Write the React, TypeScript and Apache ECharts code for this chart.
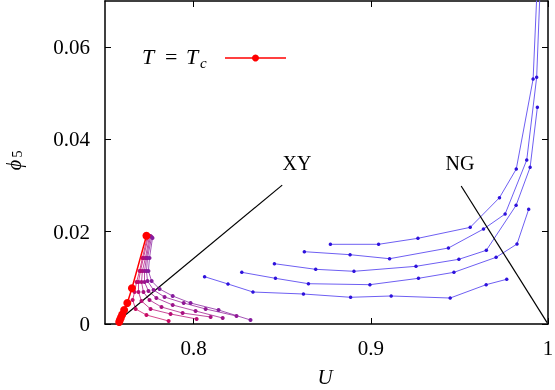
import React, { useEffect, useRef } from 'react';
import * as echarts from 'echarts';

const X_TICKS = [0.8, 0.9, 1];
const Y_TICKS = [0, 0.02, 0.04, 0.06];

// T = Tc curve (red)
const tcCurve: [number, number][] = [
  [0.7734, 0.01913], [0.7652, 0.00774], [0.7626, 0.00455], [0.7608, 0.00303],
  [0.7597, 0.00206], [0.759, 0.00141], [0.7584, 0.00087], [0.758, 0.00043],
];

// purple family near the XY fixed point
const purple1: [number, number][] = [
  [0.774, 0.01907], [0.7711, 0.0143], [0.7695, 0.01148], [0.7678, 0.0091], [0.7667, 0.00693],
  [0.7656, 0.0052], [0.7673, 0.00325], [0.7734, 0.00195], [0.7859, 0.00065],
];
const purple2: [number, number][] = [
  [0.7745, 0.01907], [0.7717, 0.0143], [0.77, 0.01148], [0.7689, 0.0091], [0.7689, 0.00693],
  [0.7706, 0.00498], [0.7757, 0.00325], [0.787, 0.00217], [0.8017, 0.00108],
];
const purple3: [number, number][] = [
  [0.7751, 0.01907], [0.7728, 0.0143], [0.7711, 0.01148], [0.7706, 0.0091], [0.7717, 0.00693],
  [0.7751, 0.0052], [0.7819, 0.00368], [0.7938, 0.00238], [0.8096, 0.00152],
];
const purple4: [number, number][] = [
  [0.7757, 0.01907], [0.7734, 0.0143], [0.7723, 0.01148], [0.7723, 0.0091], [0.7745, 0.00715],
  [0.779, 0.00563], [0.7882, 0.00412], [0.8011, 0.00282], [0.8164, 0.0013],
];
const purple5: [number, number][] = [
  [0.7763, 0.01885], [0.774, 0.0143], [0.7734, 0.01148], [0.774, 0.00932], [0.7774, 0.00737],
  [0.7836, 0.00585], [0.7944, 0.00455], [0.8068, 0.00325], [0.8242, 0.00173],
];
const purple6: [number, number][] = [
  [0.7768, 0.01864], [0.7751, 0.0143], [0.7745, 0.01148], [0.7763, 0.00932], [0.7808, 0.00758],
  [0.7882, 0.00607], [0.7983, 0.00455], [0.8141, 0.00303], [0.8321, 0.00087],
];

// blue family near the NG region
const blue1: [number, number][] = [
  [0.8772, 0.01727], [0.9044, 0.01727], [0.9266, 0.01857], [0.9561, 0.02095], [0.9726, 0.02737],
  [0.9821, 0.03359], [0.9916, 0.05309], [0.9948, 0.081],
];
const blue2: [number, number][] = [
  [0.8625, 0.01567], [0.8883, 0.01502], [0.9106, 0.01415], [0.9438, 0.01647], [0.9636, 0.02058],
  [0.9758, 0.02383], [0.988, 0.03554], [0.9936, 0.05346], [0.9964, 0.081],
];
const blue3: [number, number][] = [
  [0.8456, 0.01307], [0.8689, 0.01185], [0.8905, 0.01142], [0.9255, 0.0125], [0.9497, 0.01402],
  [0.9652, 0.01597], [0.982, 0.02572], [0.9899, 0.03395], [0.994, 0.04696],
];
const blue4: [number, number][] = [
  [0.8272, 0.0112], [0.8462, 0.0099], [0.8648, 0.00873], [0.8995, 0.00852], [0.9269, 0.0099],
  [0.9469, 0.0112], [0.9707, 0.01445], [0.9825, 0.01733], [0.9891, 0.02485],
];
const blue5: [number, number][] = [
  [0.8062, 0.01025], [0.8194, 0.00867], [0.8335, 0.00693], [0.862, 0.0065], [0.8886, 0.00579],
  [0.9115, 0.00607], [0.9448, 0.00563], [0.9651, 0.00852], [0.9767, 0.00969],
];

// annotation pointers
const xyPointer: [number, number][] = [[0.85, 0.0301], [0.7594, 0.0013]];
const ngPointer: [number, number][] = [[0.951, 0.0299], [0.9995, 0.0003]];

const SERIF = "'Liberation Serif', 'DejaVu Serif', serif";

export default function App() {
  const ref = useRef<HTMLDivElement>(null);
  useEffect(() => {
    const chart = echarts.init(ref.current!, null, { renderer: 'svg' });
    const purple = [purple1, purple2, purple3, purple4, purple5, purple6];
    const purpleColors = ['#c80a64', '#b80c74', '#aa1080', '#9c148c', '#901896', '#861c9e'];
    const blue = [blue1, blue2, blue3, blue4, blue5];
    const series: any[] = [];
    blue.forEach((d) =>
      series.push({
        type: 'line', data: d, symbol: 'circle', symbolSize: 3.5, clip: true, silent: true,
        lineStyle: { color: '#6e5ff2', width: 1 }, itemStyle: { color: '#2e12dc' },
      })
    );
    purple.forEach((d, i) =>
      series.push({
        type: 'line', data: d, symbol: 'circle', symbolSize: 4, clip: true, silent: true,
        lineStyle: { color: purpleColors[i], width: 1, opacity: 0.75 }, itemStyle: { color: purpleColors[i] },
      })
    );
    series.push({
      type: 'line', data: tcCurve, symbol: 'circle', symbolSize: 8, clip: true, silent: true,
      lineStyle: { color: '#ff0000', width: 1.5 }, itemStyle: { color: '#ff0000' },
    });
    [xyPointer, ngPointer].forEach((d) =>
      series.push({
        type: 'line', data: d, symbol: 'none', silent: true,
        lineStyle: { color: '#000', width: 1.2 },
      })
    );

    const axisCommon = {
      type: 'value',
      axisLine: { show: true, onZero: false, lineStyle: { color: '#000', width: 1.5 } },
      splitLine: { show: false },
    };
    const labelStyle = { fontFamily: SERIF, fontSize: 21, color: '#000' };

    chart.setOption({
      animation: false,
      grid: { left: 105, right: 7, top: 1, bottom: 66, outerBoundsMode: 'none' },
      xAxis: [
        {
          ...axisCommon, min: 0.75, max: 1, position: 'bottom',
          axisTick: { inside: true, length: 6, customValues: X_TICKS, lineStyle: { color: '#000' } },
          axisLabel: { ...labelStyle, customValues: X_TICKS, margin: 13 },
        },
        {
          ...axisCommon, min: 0.75, max: 1, position: 'top',
          axisTick: { inside: true, length: 6, customValues: X_TICKS, lineStyle: { color: '#000' } },
          axisLabel: { show: false },
        },
      ],
      yAxis: [
        {
          ...axisCommon, min: 0, max: 0.07, position: 'left',
          axisTick: { inside: true, length: 6, customValues: Y_TICKS, lineStyle: { color: '#000' } },
          axisLabel: { ...labelStyle, customValues: Y_TICKS, margin: 15 },
        },
        {
          ...axisCommon, min: 0, max: 0.07, position: 'right',
          axisTick: { inside: true, length: 6, customValues: Y_TICKS, lineStyle: { color: '#000' } },
          axisLabel: { show: false },
        },
      ],
      series,
      graphic: [
        { type: 'text', x: 297, y: 163, style: { text: 'XY', font: `20px ${SERIF}`, fill: '#000', align: 'center', verticalAlign: 'middle' } },
        { type: 'text', x: 460, y: 163, style: { text: 'NG', font: `20px ${SERIF}`, fill: '#000', align: 'center', verticalAlign: 'middle' } },
        // legend
        { type: 'text', x: 142, y: 56, style: { text: 'T', font: `italic 22px ${SERIF}`, fill: '#000', align: 'left', verticalAlign: 'middle' } },
        { type: 'text', x: 165, y: 56, style: { text: '=', font: `22px ${SERIF}`, fill: '#000', align: 'left', verticalAlign: 'middle' } },
        { type: 'text', x: 186, y: 56, style: { text: 'T', font: `italic 22px ${SERIF}`, fill: '#000', align: 'left', verticalAlign: 'middle' } },
        { type: 'text', x: 200, y: 63, style: { text: 'c', font: `italic 15px ${SERIF}`, fill: '#000', align: 'left', verticalAlign: 'middle' } },
        { type: 'line', shape: { x1: 225, y1: 58, x2: 286, y2: 58 }, style: { stroke: '#ff0000', lineWidth: 1.5 } },
        { type: 'circle', shape: { cx: 255.5, cy: 58, r: 3.5 }, style: { fill: '#ff0000' } },
        // axis names
        { type: 'text', x: 325, y: 377, style: { text: 'U', font: `italic 21px ${SERIF}`, fill: '#000', align: 'center', verticalAlign: 'middle' } },
        {
          type: 'group', x: 14, y: 160, rotation: Math.PI / 2,
          children: [
            { type: 'text', x: -5, y: 0, style: { text: 'ϕ', font: `italic 20px ${SERIF}`, fill: '#000', align: 'center', verticalAlign: 'middle' } },
            { type: 'text', x: 6, y: 3, style: { text: '5', font: `14px ${SERIF}`, fill: '#000', align: 'center', verticalAlign: 'middle' } },
          ],
        },
      ],
    });
    return () => chart.dispose();
  }, []);
  return <div ref={ref} style={{ position: 'fixed', left: 0, top: 0, width: 555, height: 390 }} />;
}
